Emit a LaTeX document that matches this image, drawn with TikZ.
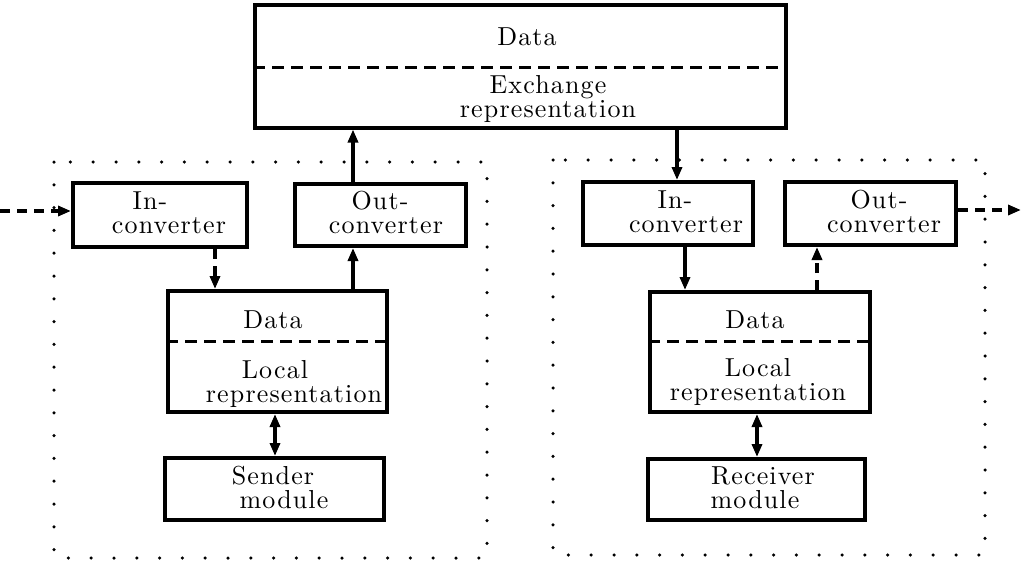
\documentclass[tikz,border=0pt]{standalone}
\usepackage{fontspec}
\setmainfont{lmroman10-regular.otf}[LetterSpace=4.4]
\usetikzlibrary{arrows.meta}
\begin{document}
\begin{tikzpicture}[x=1pt,y=-1pt,
  box/.style={draw, line width=4pt, inner sep=0pt},
  txt/.style={anchor=base, inner sep=0pt, align=center, font=\fontsize{26}{24}\selectfont},
  sepline/.style={line width=3pt, dash pattern=on 12pt off 7pt},
  conn/.style={line width=4pt, -{Triangle[length=13pt,width=10pt]}},
  bconn/.style={line width=4pt, {Triangle[length=13pt,width=10pt]}-{Triangle[length=13pt,width=10pt]}},
  dconn/.style={conn, dash pattern=on 10pt off 7pt},
  region/.style={line width=3.5pt, line cap=round, dash pattern=on 0pt off 22.8pt}]
\useasboundingbox (0,0) rectangle (1023,562);

% dotted regions
\draw[region] (54,162) rectangle (487,558);
\draw[region] (553,160) rectangle (985,555);

% boxes
\node[box, minimum width=531pt, minimum height=123pt] (top) at (520.5,66) {};
\node[box, minimum width=174pt, minimum height=64pt] (linc) at (160,215) {};
\node[box, minimum width=171pt, minimum height=62pt] (lout) at (380.5,215) {};
\node[box, minimum width=219pt, minimum height=121pt] (ldata) at (277.5,351.5) {};
\node[box, minimum width=219pt, minimum height=62pt] (sender) at (274.5,489) {};
\node[box, minimum width=170pt, minimum height=63pt] (rinc) at (668,213.5) {};
\node[box, minimum width=171pt, minimum height=63pt] (rout) at (870.5,213.5) {};
\node[box, minimum width=220pt, minimum height=120pt] (rdata) at (760,352) {};
\node[box, minimum width=217pt, minimum height=61pt] (receiver) at (756.5,489.5) {};

% separators
\coordinate (ts) at (0,67);
\coordinate (ls) at (0,341);
\draw[sepline] (top.west |- ts) -- (top.east |- ts);
\draw[sepline] (ldata.west |- ls) -- (ldata.east |- ls);
\draw[sepline] (rdata.west |- ls) -- (rdata.east |- ls);

% texts (anchor base = baseline of last line)
\node[txt] (t1) at (527,45) {Data};
\node[txt] (t2) at (548,117) {Exchange\\representation};

\node[txt] (t4) at (169,233) {In-\hspace*{38pt}\\converter};
\node[txt] (t6) at (386,233) {Out-\hspace*{12pt}\\converter};

\node[txt] (t8) at (273,328) {Data};
\node[txt] (t9) at (294,402) {Local\hspace*{38pt}\\representation};
\node[txt] (t11) at (284,508) {Sender\hspace*{22pt}\\module};

\node[txt] (t13) at (686,232) {In-\hspace*{22pt}\\converter};
\node[txt] (t15) at (884,232) {Out-\hspace*{10pt}\\converter};

\node[txt] (t17) at (755,328) {Data};
\node[txt] (t18) at (758,400) {Local\\representation};
\node[txt] (t20) at (763,508) {Receiver\\module\hspace*{16pt}};

% connector columns
\coordinate (xa) at (215,0);
\coordinate (xb) at (353,0);
\coordinate (xc) at (677,0);
\coordinate (xd) at (685,0);
\coordinate (xe) at (817,0);
\coordinate (xf) at (275,0);
\coordinate (xg) at (757,0);
\coordinate (lext) at (0,211);
\coordinate (rext) at (1021,210);

\draw[dconn] (lext) -- (linc.west |- lext);
\draw[dconn] (linc.south -| xa) -- (ldata.north -| xa);
\draw[conn] (ldata.north -| xb) -- (lout.south -| xb);
\draw[conn] (lout.north -| xb) -- (top.south -| xb);
\draw[conn] (top.south -| xc) -- (rinc.north -| xc);
\draw[conn] (rinc.south -| xd) -- (rdata.north -| xd);
\draw[dconn] (rdata.north -| xe) -- (rout.south -| xe);
\draw[dconn] (rout.east |- rext) -- (rext);
\draw[bconn] (ldata.south -| xf) -- (sender.north -| xf);
\draw[bconn] (rdata.south -| xg) -- (receiver.north -| xg);
\end{tikzpicture}
\end{document}
